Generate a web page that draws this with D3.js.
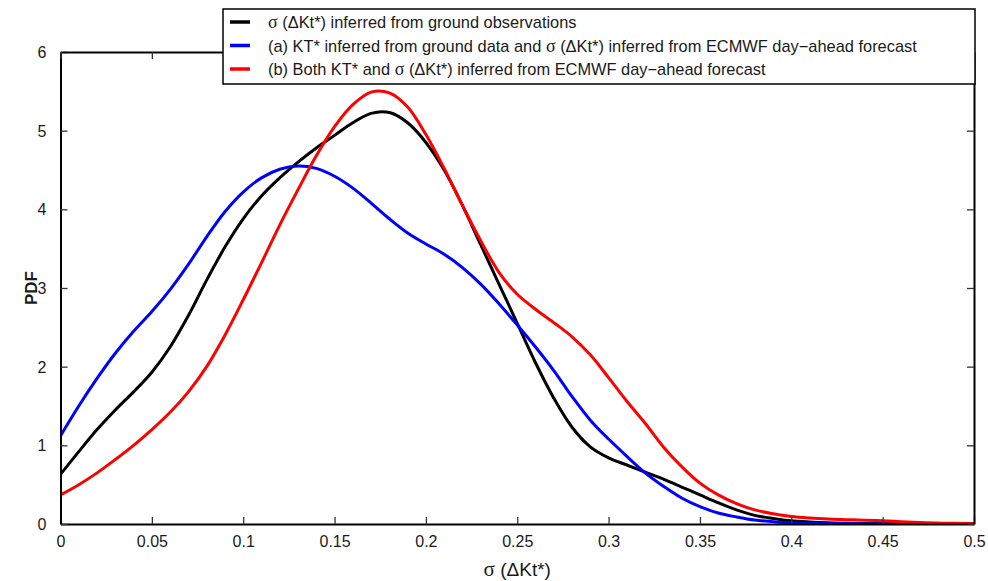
<!DOCTYPE html>
<html>
<head>
<meta charset="utf-8">
<script src="https://cdn.jsdelivr.net/npm/d3@7"></script>
<style>
  body { margin: 0; background: #fff; }
  text { font-family: "Liberation Sans", Arial, sans-serif; fill: #1a1a1a; }
</style>
</head>
<body>
<script>
// PDF curves of sigma(dKt*) - three estimates

var legendLabels = [
  ["", "σ", " (ΔKt*) inferred from ground observations"],
  ["(a) KT* inferred from ground data and ", "σ", " (ΔKt*) inferred from ECMWF day−ahead forecast"],
  ["(b) Both KT* and ", "σ", " (ΔKt*) inferred from ECMWF day−ahead forecast"]
];
var colors = ["#000000", "#0000ff", "#ff0000"];

var xTicks = [0, 0.05, 0.1, 0.15, 0.2, 0.25, 0.3, 0.35, 0.4, 0.45, 0.5];
var yTicks = [0, 1, 2, 3, 4, 5, 6];

// sigma grid 0 .. 0.5 step 0.01, pdf values
var sigma = [0,0.01,0.02,0.03,0.04,0.05,0.06,0.07,0.08,0.09,
  0.1,0.11,0.12,0.13,0.14,0.15,0.16,0.17,0.18,0.19,
  0.2,0.21,0.22,0.23,0.24,0.25,0.26,0.27,0.28,0.29,
  0.3,0.31,0.32,0.33,0.34,0.35,0.36,0.37,0.38,0.39,
  0.4,0.41,0.42,0.43,0.44,0.45,0.46,0.47,0.48,0.49,0.5];

var ground = [0.63,0.92,1.2,1.45,1.68,1.93,2.25,2.65,3.1,3.52,
  3.88,4.17,4.4,4.6,4.78,4.94,5.1,5.22,5.23,5.1,
  4.85,4.5,4.05,3.55,3.05,2.55,2.05,1.6,1.23,0.98,
  0.84,0.75,0.66,0.57,0.47,0.37,0.27,0.18,0.11,0.07,
  0.04,0.025,0.015,0.01,0.006,0.003,0.002,0.001,0,0,0];

var caseA = [1.12,1.5,1.85,2.17,2.45,2.7,2.98,3.3,3.65,3.97,
  4.22,4.4,4.51,4.55,4.52,4.42,4.27,4.08,3.88,3.7,
  3.56,3.43,3.26,3.05,2.8,2.53,2.25,1.95,1.62,1.32,
  1.08,0.86,0.65,0.48,0.33,0.22,0.14,0.09,0.05,0.03,
  0.015,0.008,0.005,0.003,0.001,0,0,0,0,0,0];

var caseB = [0.37,0.5,0.65,0.82,1.0,1.2,1.42,1.68,2.0,2.4,
  2.85,3.32,3.8,4.25,4.68,5.05,5.33,5.49,5.48,5.3,
  4.95,4.52,4.05,3.6,3.2,2.92,2.73,2.56,2.38,2.15,
  1.86,1.56,1.28,0.98,0.73,0.52,0.37,0.26,0.18,0.13,
  0.095,0.075,0.062,0.055,0.048,0.04,0.03,0.02,0.012,0.008,0.005];

var series = [ground, caseA, caseB];

var margin = {top: 52, left: 60.5, right: 14, bottom: 57},
    W = 988, H = 581,
    width = W - margin.left - margin.right,
    height = H - margin.top - margin.bottom;

var svg = d3.select("body").append("svg")
    .attr("width", W)
    .attr("height", H);

var g = svg.append("g")
    .attr("transform", "translate(" + margin.left + "," + margin.top + ")");

var x = d3.scaleLinear().domain([0, 0.5]).range([0, width]);
var y = d3.scaleLinear().domain([0, 6]).range([height, 0]);

// curves
var line = d3.line()
    .x(function(d, i){ return x(sigma[i]); })
    .y(function(d){ return y(d); })
    .curve(d3.curveCatmullRom.alpha(0.5));

g.append("defs").append("clipPath").attr("id", "clip")
  .append("rect").attr("width", width).attr("height", height + 2).attr("y", -2);

series.forEach(function(s, i){
  g.append("path")
    .datum(s)
    .attr("clip-path", "url(#clip)")
    .attr("fill", "none")
    .attr("stroke", colors[i])
    .attr("stroke-width", 3)
    .attr("stroke-linejoin", "round")
    .attr("d", line);
});

// axes, ticks pointing in
function fmt(d){ return d3.format("~g")(d); }

var axBottom = g.append("g")
    .attr("transform", "translate(0," + height + ")")
    .call(d3.axisBottom(x).tickValues(xTicks).tickSizeInner(-7).tickSizeOuter(0).tickPadding(12).tickFormat(fmt));
var axLeft = g.append("g")
    .call(d3.axisLeft(y).tickValues(yTicks).tickSizeInner(-7).tickSizeOuter(0).tickPadding(14).tickFormat(fmt));
var axTop = g.append("g")
    .call(d3.axisTop(x).tickValues(xTicks).tickSizeInner(-7).tickSizeOuter(0).tickFormat(""));
var axRight = g.append("g")
    .attr("transform", "translate(" + width + ",0)")
    .call(d3.axisRight(y).tickValues(yTicks).tickSizeInner(-7).tickSizeOuter(0).tickFormat(""));

[axBottom, axLeft, axTop, axRight].forEach(function(a){
  a.select(".domain").attr("stroke", "#000").attr("stroke-width", 2);
  a.selectAll(".tick line").attr("stroke", "#333").attr("stroke-width", 1.3);
  a.selectAll(".tick text")
    .style("font-family", '"Liberation Sans", Arial, sans-serif')
    .style("font-size", "16px")
    .attr("fill", "#1a1a1a");
});
axLeft.selectAll(".tick text").attr("dy", "0.35em");

// axis titles
svg.append("text")
    .attr("x", margin.left + width / 2)
    .attr("y", 576)
    .attr("text-anchor", "middle")
    .style("font-size", "19px")
    .call(function(t){
      t.append("tspan").style("font-family", '"Liberation Serif", "DejaVu Serif", serif').style("font-size", "21px").text("σ");
      t.append("tspan").text(" (ΔKt*)");
    });

svg.append("text")
    .attr("transform", "translate(37," + (margin.top + height / 2) + ") rotate(-90)")
    .attr("text-anchor", "middle")
    .style("font-size", "17px")
    .style("font-weight", "bold")
    .text("PDF");

// legend
var lg = svg.append("g").attr("transform", "translate(223,9)");
lg.append("rect")
    .attr("width", 752)
    .attr("height", 75)
    .attr("fill", "#fff")
    .attr("stroke", "#000")
    .attr("stroke-width", 1.5);

legendLabels.forEach(function(parts, i){
  var cy = 13 + i * 23.5;
  lg.append("line")
    .attr("x1", 7).attr("x2", 27)
    .attr("y1", cy).attr("y2", cy)
    .attr("stroke", colors[i])
    .attr("stroke-width", 3.5);
  var t = lg.append("text")
    .attr("x", 45)
    .attr("y", cy + 6)
    .style("font-size", "16.4px");
  t.append("tspan").text(parts[0]);
  t.append("tspan").style("font-family", '"Liberation Serif", "DejaVu Serif", serif').style("font-size", "18px").text(parts[1]);
  t.append("tspan").text(parts[2]);
});
</script>
</body>
</html>
